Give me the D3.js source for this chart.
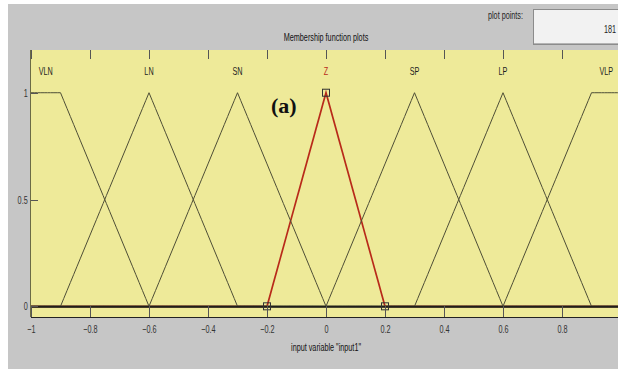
<!DOCTYPE html>
<html>
<head>
<meta charset="utf-8">
<script src="https://cdn.jsdelivr.net/npm/d3@7"></script>
<style>
  html, body { margin: 0; padding: 0; background: #ffffff; }
  svg { display: block; }
  .ui { font-family: "Liberation Sans", Arial, Helvetica, sans-serif; }
</style>
</head>
<body>
<svg id="chart" width="618" height="369"></svg>
<script>
// Membership functions of the input variable
const mfNames = ["VLN", "LN", "SN", "Z", "SP", "LP", "VLP"];
const mfTypes = ["trapmf", "trimf", "trimf", "trimf", "trimf", "trimf", "trapmf"];
const mfParams = [
  [-1.3, -1, -0.9, -0.6],
  [-0.9, -0.6, -0.3],
  [-0.6, -0.3, 0],
  [-0.2, 0, 0.2],
  [0, 0.3, 0.6],
  [0.3, 0.6, 0.9],
  [0.6, 0.9, 1, 1.3]
];
const labelX = [-0.95, -0.6, -0.3, 0, 0.3, 0.6, 0.95];
const selectedMf = "Z";
const xTicks = [-1, -0.8, -0.6, -0.4, -0.2, 0, 0.2, 0.4, 0.6, 0.8, 1];
const xTickLabels = [-1, -0.8, -0.6, -0.4, -0.2, 0, 0.2, 0.4, 0.6, 0.8];
const yTicks = [0, 0.5, 1];
const xRange = [-1, 1];
const yRange = [-0.05, 1.2];
const plotPoints = 181;

const svg = d3.select("#chart");
const W = 618, H = 369;
const mLeft = 31, mRight = 621, mTop = 50, mBottom = 317;
const squeeze = 0.66;   // condensed GUI lettering
const uiSize = 11;

const x = d3.scaleLinear().domain(xRange).range([mLeft, mRight]);
const y = d3.scaleLinear().domain(yRange).range([mBottom, mTop]);

// condensed text placed at (px, py)
function uiText(px, py, str, opts = {}) {
  const g = svg.append("g").attr("transform", `translate(${px},${py})`);
  return g.append("text").attr("class", "ui")
    .attr("transform", `scale(${squeeze},1)`)
    .attr("text-anchor", opts.anchor || "middle")
    .attr("font-size", opts.size || uiSize)
    .attr("fill", opts.fill || "#1e1e1e")
    .text(str);
}

// figure background
svg.append("rect").attr("x", 0).attr("y", 0).attr("width", W).attr("height", H).attr("fill", "#ffffff");
svg.append("rect").attr("x", 8).attr("y", 4).attr("width", W - 8).attr("height", H - 4).attr("fill", "#c6c6c6");

// plot points field
uiText(523, 19, "plot points:", { anchor: "end" });
svg.append("rect").attr("x", 533.5).attr("y", 9.5).attr("width", 100).attr("height", 35)
  .attr("fill", "#f2f2f2").attr("stroke", "#8c8c8c").attr("stroke-width", 1);
svg.append("line").attr("x1", 534).attr("x2", 634).attr("y1", 43.5).attr("y2", 43.5).attr("stroke", "#b4b4b4");
uiText(616, 33, String(plotPoints), { anchor: "end" });

// title
uiText(x(0), 41, "Membership function plots", { fill: "#111" });

// axes area
svg.append("rect").attr("x", mLeft).attr("y", mTop).attr("width", mRight - mLeft).attr("height", mBottom - mTop)
  .attr("fill", "#eeea99");

// membership function evaluation
function mfValue(type, p, v) {
  if (type === "trimf") {
    const [a, b, c] = p;
    return Math.max(0, Math.min((v - a) / (b - a), (c - v) / (c - b)));
  }
  const [a, b, c, d] = p;
  return Math.max(0, Math.min((v - a) / (b - a), 1, (d - v) / (d - c)));
}
const samples = d3.range(plotPoints).map(i => xRange[0] + i * (xRange[1] - xRange[0]) / (plotPoints - 1));
const line = d3.line().x(d => x(d[0])).y(d => y(d[1]));

const mfData = mfNames.map((name, i) => ({
  name,
  type: mfTypes[i],
  params: mfParams[i],
  pts: samples.map(v => [v, mfValue(mfTypes[i], mfParams[i], v)])
}));

// selected function underneath (red)
const sel = mfData.find(d => d.name === selectedMf);
svg.append("path").datum(sel.pts).attr("d", line)
  .attr("fill", "none").attr("stroke", "#b82a1a").attr("stroke-width", 1.7);

// other functions
svg.append("g").selectAll("path").data(mfData.filter(d => d.name !== selectedMf)).join("path")
  .attr("d", d => line(d.pts))
  .attr("fill", "none").attr("stroke", "#4e4e36").attr("stroke-width", 1);

// zero baseline where all functions overlap
svg.append("line").attr("x1", x(xRange[0])).attr("x2", x(xRange[1]))
  .attr("y1", y(0) + 0.7).attr("y2", y(0) + 0.7).attr("stroke", "#111").attr("stroke-width", 1.6);

// handles on the selected function's vertices
svg.append("g").selectAll("rect").data(sel.params.map(v => [v, mfValue(sel.type, sel.params, v)])).join("rect")
  .attr("x", d => x(d[0]) - 3.5).attr("y", d => y(d[1]) - 3.5)
  .attr("width", 7).attr("height", 7)
  .attr("fill", "none").attr("stroke", "#333").attr("stroke-width", 1);

// function labels
mfNames.forEach((name, i) => {
  uiText(x(labelX[i]), y(1.1) + 4, name, { fill: name === selectedMf ? "#b82a1a" : "#1e1e1e" });
});

// ticks
const tickLen = 9;
const gT = svg.append("g").attr("stroke", "#555").attr("stroke-width", 1);
gT.selectAll("line.top").data(xTicks).join("line").attr("class", "top")
  .attr("x1", d => Math.round(x(d)) + 0.5).attr("x2", d => Math.round(x(d)) + 0.5)
  .attr("y1", mTop).attr("y2", mTop + tickLen);
gT.selectAll("line.bot").data(xTicks).join("line").attr("class", "bot")
  .attr("x1", d => Math.round(x(d)) + 0.5).attr("x2", d => Math.round(x(d)) + 0.5)
  .attr("y1", mBottom).attr("y2", mBottom - 11);
gT.selectAll("line.lft").data(yTicks).join("line").attr("class", "lft")
  .attr("x1", mLeft).attr("x2", mLeft + 7)
  .attr("y1", d => Math.round(y(d)) + 0.5).attr("y2", d => Math.round(y(d)) + 0.5);

// axes frame
svg.append("line").attr("x1", mLeft - 0.5).attr("x2", mLeft - 0.5).attr("y1", mTop).attr("y2", mBottom)
  .attr("stroke", "#6b6b45").attr("stroke-width", 1);
svg.append("line").attr("x1", mLeft).attr("x2", mRight).attr("y1", mBottom + 0.5).attr("y2", mBottom + 0.5)
  .attr("stroke", "#222").attr("stroke-width", 1.2);

// tick labels via d3 axes
const xAxis = d3.axisBottom(x).tickValues(xTickLabels).tickSize(0).tickPadding(0).tickFormat(d3.format("~g"));
const gx = svg.append("g").attr("transform", `translate(0,${mBottom + 8})`).call(xAxis);
gx.select(".domain").remove();
gx.selectAll("text").attr("class", "ui").attr("font-size", uiSize).attr("fill", "#333")
  .attr("transform", `scale(${squeeze},1)`);

const yAxis = d3.axisLeft(y).tickValues(yTicks).tickSize(0).tickPadding(5).tickFormat(d3.format("~g"));
const gy = svg.append("g").attr("transform", `translate(${mLeft},0)`).call(yAxis);
gy.select(".domain").remove();
gy.selectAll("text").attr("class", "ui").attr("font-size", uiSize).attr("fill", "#333")
  .attr("transform", `scale(${squeeze},1)`);

// axis label
uiText(x(0), 351, 'input variable "input1"', { fill: "#111" });

// panel tag
svg.append("text")
  .attr("x", 271).attr("y", 113)
  .attr("font-family", "'Liberation Serif', 'Times New Roman', serif")
  .attr("font-weight", "bold").attr("font-size", 22).attr("fill", "#111")
  .text("(a)");
</script>
</body>
</html>
